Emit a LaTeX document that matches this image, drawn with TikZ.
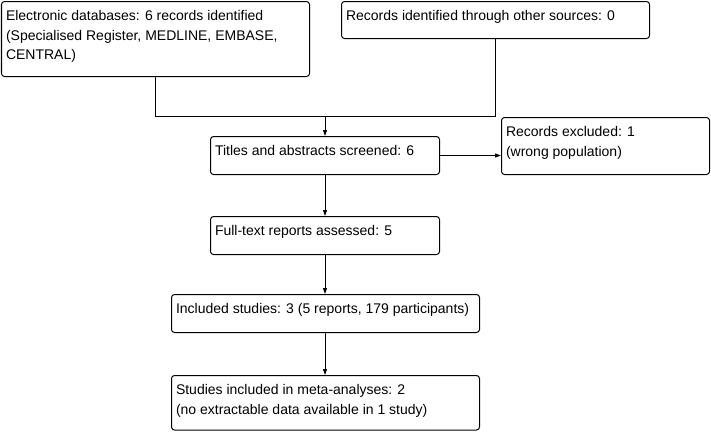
\documentclass[tikz,border=0pt]{standalone}
\usepackage{fontspec}
\setmainfont{Liberation Sans}
\usetikzlibrary{arrows.meta}
\newcommand\boxbody[3]{\vbox to #2{\hsize=#1\relax\parindent=0pt\parskip=0pt\leftskip=4.5bp\rightskip=0pt plus 1fil\baselineskip=19.5bp\lineskiplimit=-100bp\leavevmode\vrule height 19bp depth 0pt width 0pt\relax #3\par\vss}}
\tikzset{
  flowbox/.style={draw=black, line width=1bp, rounded corners=3bp, inner sep=0pt, anchor=north west, font=\fontsize{14bp}{19.5bp}\selectfont},
  conn/.style={draw=black, line width=1bp},
  arr/.style={conn, -{Triangle[length=6bp,width=4bp]}}
}
\begin{document}
\begin{tikzpicture}[x=1bp,y=-1bp]
\useasboundingbox (0,0) rectangle (711,431);
\node[flowbox] (db) at (1,1) {\boxbody{308bp}{75bp}{Electronic databases: 6 records identified\par (Specialised Register, MEDLINE, EMBASE,\par CENTRAL)}};
\node[flowbox] (oth) at (341,1) {\boxbody{308bp}{37bp}{Records identified through other sources: 0}};
\node[flowbox] (tit) at (210,136) {\boxbody{229bp}{38bp}{Titles and abstracts screened: 6}};
\node[flowbox] (exc) at (501,117) {\boxbody{208bp}{57bp}{Records excluded: 1\par (wrong population)}};
\node[flowbox] (full) at (210,216) {\boxbody{229bp}{38bp}{Full-text reports assessed: 5}};
\node[flowbox] (inc) at (171,294) {\boxbody{308bp}{38bp}{Included studies: 3 (5 reports, 179 participants)}};
\node[flowbox] (meta) at (171,375) {\boxbody{308bp}{54.5bp}{Studies included in meta-analyses: 2\par (no extractable data available in 1 study)}};
\coordinate (j) at (325,116.5);
\draw[conn] (db.south) |- (j) -| (oth.south);
\draw[arr] (j) -- (j |- tit.north);
\draw[arr] (tit.east) -- (tit.east -| exc.west);
\draw[arr] (tit.south -| j) -- (j |- full.north);
\draw[arr] (full.south -| j) -- (j |- inc.north);
\draw[arr] (inc.south -| j) -- (j |- meta.north);
\end{tikzpicture}
\end{document}
